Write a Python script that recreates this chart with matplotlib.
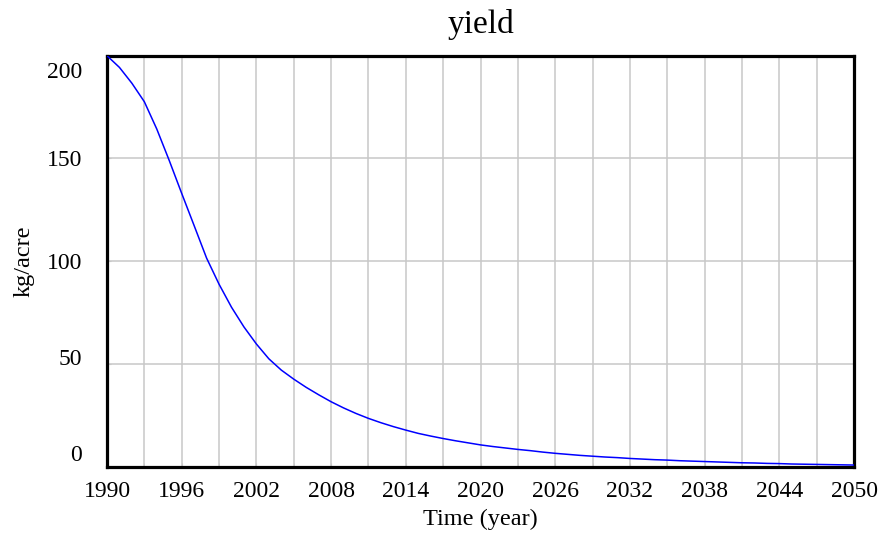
import matplotlib
matplotlib.use("Agg")
import matplotlib.pyplot as plt
from matplotlib.transforms import ScaledTranslation

# yearly values
years = list(range(1990, 2051))
yield_kg = [200.0, 194.3, 186.6, 177.6, 164.3, 149.0, 133.0, 117.3, 101.5, 88.8,
            77.6, 68.0, 59.7, 52.5, 47.0, 42.6, 38.6, 35.0, 31.6, 28.6,
            25.9, 23.5, 21.4, 19.5, 17.8, 16.2, 14.9, 13.7, 12.6, 11.6,
            10.6, 9.8, 9.1, 8.4, 7.8, 7.1, 6.5, 6.0, 5.5, 5.1,
            4.7, 4.4, 4.0, 3.7, 3.4, 3.2, 2.9, 2.7, 2.5, 2.3,
            2.1, 1.9, 1.8, 1.6, 1.5, 1.3, 1.2, 1.1, 1.0, 0.9, 0.8]

x_ticks = list(range(1990, 2051, 6))
x_grid = list(range(1990, 2051, 3))
y_ticks = [0, 50, 100, 150, 200]

plt.rcParams['font.family'] = ['Liberation Serif', 'DejaVu Serif']

fig = plt.figure(figsize=(8.82, 5.35), dpi=100)
ax = fig.add_axes([0.1213, 0.1277, 0.8470, 0.7682])

ax.plot(years, yield_kg, color='#0000ff', lw=1.1, zorder=3)

ax.set_xlim(1990, 2050)
ax.set_ylim(0, 200)
ax.set_xticks(x_ticks)
ax.set_xticks(x_grid, minor=True)
ax.set_yticks(y_ticks)
ax.grid(True, which='both', color='#c8c8c8', lw=1.1)
ax.set_axisbelow(True)

ax.tick_params(axis='both', which='both', direction='in', length=3,
               color='#c8c8c8', labelsize=17)
ax.tick_params(axis='x', pad=10)
ax.tick_params(axis='y', pad=18)

for s in ax.spines.values():
    s.set_linewidth(2.3)
    s.set_color('black')

# shift y labels like the original tool does
offsets = [10, 5, 0, 0, -10]
for lab, dy in zip(ax.get_yticklabels(), offsets):
    lab.set_transform(lab.get_transform() + ScaledTranslation(0, dy / 72, fig.dpi_scale_trans))

ax.set_title('yield', fontsize=24, pad=16)
ax.set_xlabel('Time (year)', fontsize=17.5, labelpad=5)
ax.set_ylabel('kg/acre', fontsize=17.5, labelpad=9)

fig.savefig('out.png', dpi=100)
